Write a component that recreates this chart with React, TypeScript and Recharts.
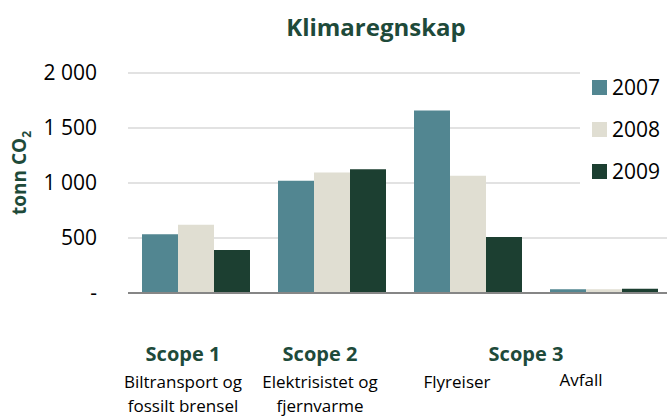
import React from 'react';
import { BarChart, Bar, XAxis, YAxis, CartesianGrid } from 'recharts';

// categories and labels
const categories = ['Biltransport', 'Elektrisitet', 'Flyreiser', 'Avfall'];
const scopeLabels = ['Scope 1', 'Scope 2', 'Scope 3', ''];
const descLabels = [
  ['Biltransport og', 'fossilt brensel'],
  ['Elektrisistet og', 'fjernvarme'],
  ['Flyreiser'],
  ['Avfall'],
];

// tonn CO2 per year
const values2007 = [535, 1020, 1660, 35];
const values2008 = [620, 1095, 1065, 35];
const values2009 = [390, 1125, 510, 38];

const yTicks = [0, 500, 1000, 1500, 2000];
const years = ['2007', '2008', '2009'];

const COLORS: Record<string, string> = {
  '2007': '#528691',
  '2008': '#e0ded2',
  '2009': '#1c3f31',
};
const GREEN = '#1e4a3a';
const FONT = '"Open Sans", "Noto Sans", sans-serif';

// small nudges so labels sit where the original text boxes were
const labelShift = [-13, -12, -11, -23];
const scope3Shift = 58;

const data = categories.map((name, i) => ({
  name,
  '2007': values2007[i],
  '2008': values2008[i],
  '2009': values2009[i],
}));

const formatTick = (v: number) =>
  v === 0 ? '-' : v.toLocaleString('en-US').replace(/,/g, ' ');

function CategoryTick(props: any) {
  const { x, y, index } = props;
  const dx = labelShift[index] ?? 0;
  const scope = scopeLabels[index];
  const scopeX = index === 2 ? x + scope3Shift : x + dx;
  return (
    <g>
      {scope && (
        <text
          x={scopeX}
          y={y + 60}
          textAnchor="middle"
          fontFamily={FONT}
          fontWeight={700}
          fontSize={20}
          fill={GREEN}
        >
          {scope}
        </text>
      )}
      {descLabels[index].map((line, j) => (
        <text
          key={j}
          x={x + dx}
          y={y + (index === 3 ? 85 : 87) + j * 24}
          textAnchor="middle"
          fontFamily={FONT}
          fontSize={17}
          fill="#000"
        >
          {line}
        </text>
      ))}
    </g>
  );
}

function LegendBox() {
  return (
    <div
      style={{
        position: 'absolute',
        top: 66,
        left: 580,
        background: '#fff',
        width: 100,
        height: 122,
      }}
    >
      {years.map((yr) => (
        <div
          key={yr}
          style={{
            display: 'flex',
            alignItems: 'center',
            height: 42,
            lineHeight: '42px',
            fontFamily: FONT,
            fontSize: 21,
            color: '#000',
          }}
        >
          <span
            style={{
              display: 'inline-block',
              width: 15,
              height: 15,
              background: COLORS[yr],
              marginLeft: 12,
              marginRight: 5,
            }}
          />
          {yr}
        </div>
      ))}
    </div>
  );
}

export default function App() {
  return (
    <div
      style={{
        position: 'fixed',
        top: 0,
        left: 0,
        width: 667,
        height: 416,
        overflow: 'hidden',
        background: '#fff',
      }}
    >
      <div
        style={{
          position: 'absolute',
          top: 13,
          left: 0,
          width: 752,
          textAlign: 'center',
          fontFamily: FONT,
          fontWeight: 700,
          fontSize: 24,
          lineHeight: '28px',
          color: GREEN,
          zIndex: 2,
        }}
      >
        Klimaregnskap
      </div>
      <BarChart
        width={680}
        height={416}
        data={data}
        margin={{ top: 73, right: 8, left: 0, bottom: 0 }}
        barCategoryGap={14}
        barGap={0}
      >
        <CartesianGrid vertical={false} stroke="#d9d9d9" strokeWidth={1.5} />
        <XAxis
          dataKey="name"
          height={123}
          axisLine={{ stroke: '#868686', strokeWidth: 2 }}
          tickLine={false}
          tick={<CategoryTick />}
          interval={0}
        />
        <YAxis
          width={128}
          domain={[0, 2000]}
          ticks={yTicks}
          interval={0}
          axisLine={false}
          tickLine={false}
          tickSize={0}
          tickMargin={31}
          tickFormatter={formatTick}
          tick={{ fontFamily: FONT, fontSize: 21, fill: '#000' }}
          label={{
            content: () => (
              <text
                transform="translate(26 173) rotate(-90)"
                textAnchor="middle"
                fontFamily={FONT}
                fontWeight={700}
                fontSize={19}
                fill={GREEN}
              >
                tonn CO
                <tspan fontSize={12} dy={5}>2</tspan>
              </text>
            ),
          }}
        />
        {years.map((yr) => (
          <Bar key={yr} dataKey={yr} fill={COLORS[yr]} isAnimationActive={false} />
        ))}
      </BarChart>
      <LegendBox />
    </div>
  );
}
